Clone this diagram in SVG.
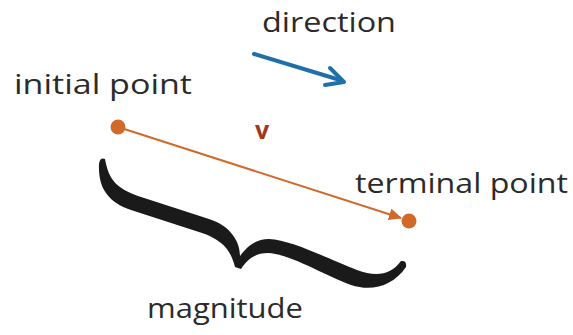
<svg xmlns="http://www.w3.org/2000/svg" width="573" height="335" viewBox="0 0 573 335">
<style>
.lbl{font-family:"Open Sans","Noto Sans",sans-serif;font-size:27px;fill:#2b2b2b}
.pt{fill:#d06a2b}
</style>
<defs>
<marker id="ah" markerWidth="13" markerHeight="12" refX="12" refY="6" orient="auto" markerUnits="userSpaceOnUse" viewBox="0 0 13 12">
<path d="M0,0 L13,6 L0,12 Z" fill="#d06a2b"/>
</marker>
</defs>
<rect width="573" height="335" fill="#fff"/>
<g id="connectors">
<line x1="118" y1="127" x2="401" y2="218" stroke="#d06a2b" stroke-width="2" marker-end="url(#ah)"/>
<g id="direction-arrow" fill="none" stroke="#1f70a8" stroke-width="4" stroke-linecap="round" stroke-linejoin="round">
<line x1="254" y1="54" x2="340" y2="80"/>
<path d="M330,68 L344,82 L325,85" />
</g>
</g>
<g id="initial-point">
<circle cx="118" cy="127" r="7.5" class="pt"/>
<text class="lbl" x="14" y="94" textLength="178" lengthAdjust="spacingAndGlyphs">initial point</text>
</g>
<g id="terminal-point">
<circle cx="409" cy="221" r="7.5" class="pt"/>
<text class="lbl" x="355" y="193" textLength="213" lengthAdjust="spacingAndGlyphs">terminal point</text>
</g>
<g id="direction">
<text class="lbl" x="262" y="32" textLength="134" lengthAdjust="spacingAndGlyphs">direction</text>
</g>
<g id="vector-label">
<text x="255" y="139" font-family="'Open Sans','Noto Sans',sans-serif" font-weight="bold" font-size="25" fill="#a3381f">v</text>
</g>
<g id="magnitude">
<path d="M105,159 C109,181 117,188 138,196 L209,219 C231,226 240,242 240,256 C247,247 255,239 269,239 C292,240 331,260 357,270 C376,277 391,275 401,261 Q407,260 406,267 C393,286 372,292 351,285 C324,275 290,254 268,253 C254,253 247,260 241,269 L235,267 C231,251 223,240 202,233 L131,210 C108,202 98,188 99,164 Q100,157 105,159 Z" fill="#1a1a1a"/>
<text class="lbl" x="147" y="318" textLength="156" lengthAdjust="spacingAndGlyphs">magnitude</text>
</g>
</svg>
